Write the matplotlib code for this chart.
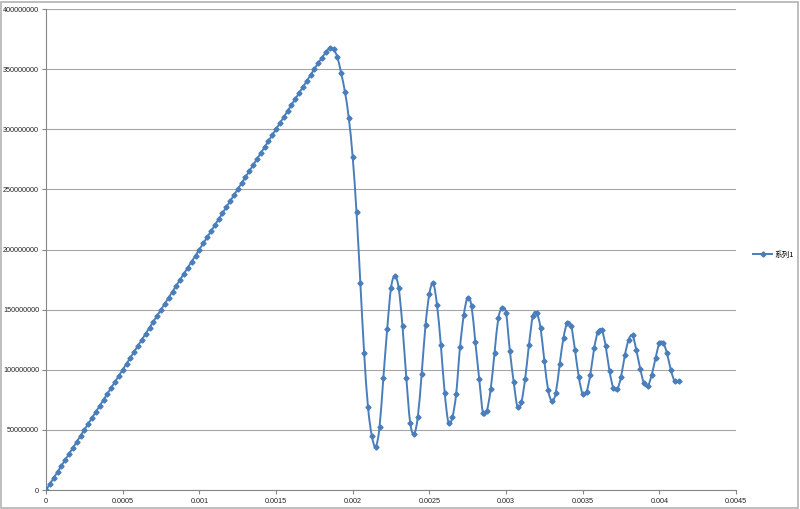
import matplotlib
matplotlib.use("Agg")
import matplotlib.pyplot as plt
from matplotlib.patches import Rectangle, PathPatch
from matplotlib.path import Path
from matplotlib.lines import Line2D

# time in microseconds (sample grid of the series)
time_us = [
    0, 25, 50, 75, 100, 125, 150, 175, 200, 225, 250, 275, 300, 325, 350, 375, 400, 425, 450, 475,
    500, 525, 550, 575, 600, 625, 650, 675, 700, 725, 750, 775, 800, 825, 850, 875, 900, 925, 950, 975,
    1000, 1025, 1050, 1075, 1100, 1125, 1150, 1175, 1200, 1225, 1250, 1275, 1300, 1325, 1350, 1375, 1400, 1425, 1450, 1475,
    1500, 1525, 1550, 1575, 1600, 1625, 1650, 1675, 1700, 1725, 1750, 1775, 1800, 1825, 1850, 1875, 1900, 1925, 1950, 1975,
    2000, 2025, 2050, 2075, 2100, 2125, 2150, 2175, 2200, 2225, 2250, 2275, 2300, 2325, 2350, 2375, 2400, 2425, 2450, 2475,
    2500, 2525, 2550, 2575, 2600, 2625, 2650, 2675, 2700, 2725, 2750, 2775, 2800, 2825, 2850, 2875, 2900, 2925, 2950, 2975,
    3000, 3025, 3050, 3075, 3100, 3125, 3150, 3175, 3200, 3225, 3250, 3275, 3300, 3325, 3350, 3375, 3400, 3425, 3450, 3475,
    3500, 3525, 3550, 3575, 3600, 3625, 3650, 3675, 3700, 3725, 3750, 3775, 3800, 3825, 3850, 3875, 3900, 3925, 3950, 3975,
    4000, 4025, 4050, 4075, 4100, 4125,
]

# series values in millions
series1_m = [
    0, 5, 10, 15, 20, 25, 30, 35, 40, 45, 50, 55, 60, 65, 70, 75, 80, 85, 90, 95,
    100, 105, 110, 115, 120, 125, 130, 135, 140, 145, 150, 155, 160, 165, 170, 175, 180, 185, 190, 195,
    200, 205, 210, 215, 220, 225, 230, 235, 240, 245, 250, 255, 260, 265, 270, 275, 280, 285, 290, 295,
    300, 305, 310, 315, 320, 325, 330, 335, 340, 345, 350, 355, 359.5, 364, 367.5, 366.5, 360, 346.5, 331, 309,
    277, 231, 172.5, 113.6, 69, 45, 36, 52, 93, 133.6, 168, 178, 168, 136, 93, 56, 46.5, 61, 96.5, 137,
    163, 172, 154, 120.6, 81, 56, 60.5, 80, 118.7, 145.8, 160, 153, 123, 92.6, 64, 66, 83.7, 113.7, 143, 151,
    147.5, 116, 90, 69, 73, 92.6, 121, 144.7, 147, 135, 107.5, 83, 74, 81, 104.5, 126.7, 139, 136.4, 116.4, 93.7,
    80, 81.7, 96, 118, 131.6, 133, 119.7, 98.9, 85, 83.7, 94, 112, 125, 128.6, 116.4, 101, 88.7, 86.5, 95.6, 109.5,
    122, 122.5, 113.7, 99.8, 90.6, 90.4,
]

series_name = "系列1"
x_ticks = [0, 0.0005, 0.001, 0.0015, 0.002, 0.0025, 0.003, 0.0035, 0.004, 0.0045]
x_tick_labels = ["0", "0.0005", "0.001", "0.0015", "0.002", "0.0025", "0.003", "0.0035", "0.004", "0.0045"]
y_ticks = [0, 50000000, 100000000, 150000000, 200000000, 250000000, 300000000, 350000000, 400000000]
y_tick_labels = [str(v) for v in y_ticks]

plt.rcParams['font.family'] = ['Liberation Sans', 'Noto Sans CJK SC', 'DejaVu Sans']

x = [t * 1e-6 for t in time_us]
y = [v * 1e6 for v in series1_m]

fig = plt.figure(figsize=(8, 5.09), dpi=100)
fig.patch.set_facecolor("white")
fig.add_artist(Rectangle((0.001, 0.002), 0.997, 0.995, transform=fig.transFigure,
                         fill=False, edgecolor="#b3b3b3", linewidth=1.2))

ax = fig.add_axes([0.0575, 0.0373, 0.8625, 0.945])
line_color = "#4a7ebb"

# smoothed line through the data points (Excel-style smoothing, Catmull-Rom Bezier)
n = len(x)
verts = [(x[0], y[0])]
codes = [Path.MOVETO]
for i in range(n - 1):
    x0, y0 = (x[i - 1], y[i - 1]) if i > 0 else (x[i], y[i])
    x1, y1 = x[i], y[i]
    x2, y2 = x[i + 1], y[i + 1]
    x3, y3 = (x[i + 2], y[i + 2]) if i + 2 < n else (x2, y2)
    c1 = (x1 + (x2 - x0) / 6.0, y1 + (y2 - y0) / 6.0)
    c2 = (x2 - (x3 - x1) / 6.0, y2 - (y3 - y1) / 6.0)
    verts += [c1, c2, (x2, y2)]
    codes += [Path.CURVE4, Path.CURVE4, Path.CURVE4]
ax.add_patch(PathPatch(Path(verts, codes), facecolor="none", edgecolor=line_color,
                       linewidth=1.4, zorder=3, capstyle="round", joinstyle="round"))
ax.plot(x, y, linestyle="none", marker="D", markersize=2.6,
        markerfacecolor=line_color, markeredgecolor=line_color, zorder=4)

ax.set_xlim(0, 0.0045)
ax.set_ylim(0, 400000000)
ax.set_xticks(x_ticks)
ax.set_xticklabels(x_tick_labels)
ax.set_yticks(y_ticks)
ax.set_yticklabels(y_tick_labels)

ax.yaxis.grid(True, color="#a6a6a6", linewidth=0.8)
ax.xaxis.grid(False)
ax.set_axisbelow(True)

for s in ("top", "right"):
    ax.spines[s].set_visible(False)
for s in ("left", "bottom"):
    ax.spines[s].set_color("#868686")
    ax.spines[s].set_linewidth(0.8)

ax.tick_params(axis="both", colors="#868686", labelcolor="#222222", labelsize=5.2,
               length=3, width=0.8, direction="out")
ax.tick_params(axis="x", pad=3)
ax.tick_params(axis="y", pad=2)

handle = Line2D([], [], color=line_color, linewidth=1.4, marker="D", markersize=2.6,
                markerfacecolor=line_color, markeredgecolor=line_color)
fig.legend([handle], [series_name], loc="center left", bbox_to_anchor=(0.938, 0.4996),
           frameon=False, handlelength=2.4, handletextpad=0.3, borderaxespad=0,
           prop={'family': ['Noto Sans CJK SC', 'DejaVu Sans'], 'size': 5.5})

fig.savefig("out.png", dpi=100, facecolor="white")
